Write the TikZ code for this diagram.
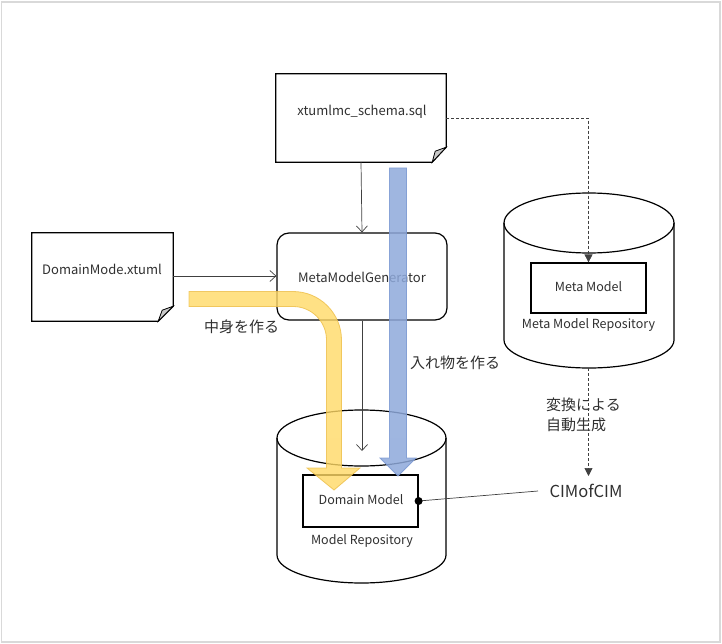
\documentclass[tikz,border=0pt]{standalone}
\usepackage{fontspec}
\setmainfont{Noto Sans CJK JP}
\usetikzlibrary{arrows.meta}
\definecolor{frame}{HTML}{D9D9D9}
\definecolor{txt}{HTML}{303030}
\definecolor{thin}{HTML}{404040}
\definecolor{yel}{HTML}{FFD966}
\definecolor{yelb}{HTML}{EDBE48}
\definecolor{blu}{HTML}{8EA9DB}
\definecolor{blub}{HTML}{7A98D2}
\definecolor{fold}{HTML}{C8C8C8}
\tikzset{
  lab/.style={text=txt, font=\fontsize{13}{15}\selectfont, inner sep=0pt},
  slab/.style={text=txt, font=\fontsize{12.5}{14}\selectfont, inner sep=0pt},
  jlab/.style={text=txt, font=\fontsize{15}{19.5}\selectfont, inner sep=0pt, align=left},
  boxline/.style={draw=black, line width=1.2pt},
  thinarrow/.style={draw=thin, line width=0.7pt, -{Straight Barb[length=6pt,width=11pt]}},
  dasharrow/.style={draw=thin, line width=0.7pt, dash pattern=on 3pt off 2pt, -{Triangle[length=8pt,width=8pt]}},
  fatyellow/.style={fill=yel, draw=yelb, line width=0.8pt, fill opacity=0.8, draw opacity=0.8},
  fatblue/.style={fill=blu, draw=blub, line width=0.8pt, fill opacity=0.85, draw opacity=0.85},
}
\begin{document}
\begin{tikzpicture}[x=1pt,y=-1pt]
\useasboundingbox (0,0) rectangle (722,644);
\draw[frame, line width=1.5pt] (1.5,2) rectangle (720,642);

% --- xtumlmc_schema.sql document
\node[minimum width=170pt, minimum height=88pt, inner sep=0pt] (sql) at (361,118) {};
\draw[boxline, fill=white] (sql.north west) -- (sql.north east) -- ([yshift=15pt]sql.south east) -- ([xshift=-14pt]sql.south east) -- (sql.south west) -- cycle;
\draw[boxline, fill=fold, line width=0.8pt] ([xshift=-14pt]sql.south east) -- ([xshift=-11pt,yshift=11pt]sql.south east) -- ([yshift=15pt]sql.south east) -- cycle;
\node[lab] (sqltext) at (362,112) {xtumlmc\_schema.sql};

% --- DomainMode.xtuml document
\node[minimum width=141pt, minimum height=88pt, inner sep=0pt] (dmx) at (102.5,277) {};
\draw[boxline, fill=white] (dmx.north west) -- (dmx.north east) -- ([yshift=15pt]dmx.south east) -- ([xshift=-15pt]dmx.south east) -- (dmx.south west) -- cycle;
\draw[boxline, fill=fold, line width=0.8pt] ([xshift=-15pt]dmx.south east) -- ([xshift=-11pt,yshift=11pt]dmx.south east) -- ([yshift=15pt]dmx.south east) -- cycle;
\node[lab] (dmxtext) at (102,269) {DomainMode.xtuml};

% --- MetaModelGenerator
\node[boxline, rounded corners=12pt, minimum width=170pt, minimum height=87pt, inner sep=0pt] (mmg) at (362,276.5) {};
\node[lab] (mmgtext) at (362,277) {MetaModelGenerator};

% --- Model Repository cylinder
\draw[boxline, fill=white] (277,438) -- (277,555) arc[start angle=180, end angle=0, x radius=84.5, y radius=28] -- (446,438);
\draw[boxline] (361.5,438) ellipse [x radius=84.5, y radius=28];
\node[boxline, minimum width=115pt, minimum height=52pt, inner sep=0pt] (dm) at (360.5,501) {};
\node[slab] (dmtext) at (361,500) {Domain Model};
\node[slab] (mrtext) at (362,541) {Model Repository};
\coordinate (mrin) at (362,451);

% --- Meta Model Repository cylinder
\draw[boxline, fill=white] (504,223) -- (504,340) arc[start angle=180, end angle=0, x radius=85, y radius=28] -- (674,223);
\draw[boxline] (589,223) ellipse [x radius=85, y radius=30];
\node[boxline, minimum width=115pt, minimum height=50pt, inner sep=0pt] (mm) at (588.5,288) {};
\node[slab] (mmtext) at (588.5,287) {Meta Model};
\node[slab] (mmrtext) at (588.5,325) {Meta Model Repository};
\coordinate (mmrbot) at (588.5,368);

% --- CIMofCIM
\node[lab, font=\fontsize{16.5}{18}\selectfont] (cim) at (586,491) {CIMofCIM};
\coordinate (cimtop) at (588.5,476);
\coordinate (cimleft) at (538,491);

% --- thin connectors
\draw[thinarrow] (sql.south) -- (mmg.north);
\draw[thinarrow] (dmx.east |- 0,276) -- (mmg.west |- 0,276);
\draw[thinarrow] (mmg.south) -- (mrin);
\draw[dasharrow] (sql.east |- 0,118) -| (mm.north);
\draw[dasharrow] (mmrbot) -- (cimtop);
\draw[draw=thin, line width=0.7pt] (dm.east) -- (cimleft);
\fill[black] (dm.east) circle (4pt);

% --- labels
\node[jlab, anchor=west] (l1) at (204,327) {中身を作る};
\node[jlab, anchor=west] (l2) at (410,363) {入れ物を作る};
\node[jlab, anchor=north west] (l3) at (546,398) {変換による\\自動生成};

% --- fat arrows
\draw[fatyellow] (189,291.5) -- (293,291.5) arc[start angle=270, end angle=360, radius=48.5]
  -- (341.5,468) -- (360,468) -- (334,490) -- (307,468) -- (326.5,468) -- (326.5,340)
  arc[start angle=0, end angle=-90, radius=33.5] -- (189,306.5) -- cycle;
\draw[fatblue] (389.5,168) -- (406.5,168) -- (406.5,458) -- (416,458) -- (398,476) -- (380,458) -- (389.5,458) -- cycle;
\end{tikzpicture}
\end{document}
